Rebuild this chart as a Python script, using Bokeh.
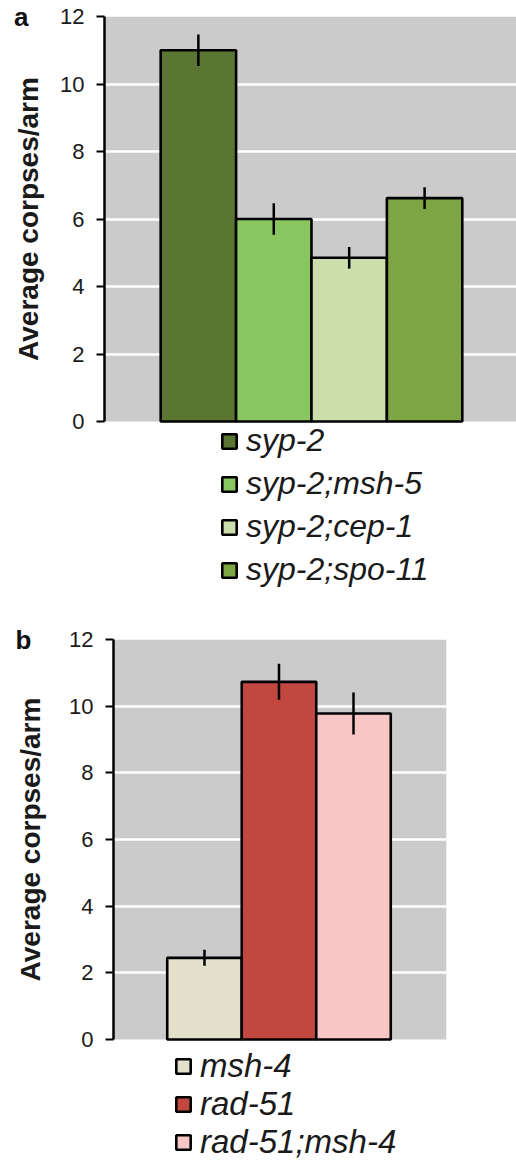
from bokeh.plotting import figure
from bokeh.models import (Range1d, FixedTicker, ColumnDataSource, Legend,
                          LegendItem, BoxAnnotation, LinearAxis)
from bokeh.embed import file_html
from bokeh.resources import INLINE

# ---- data ----
a_labels = ["syp-2", "syp-2;msh-5", "syp-2;cep-1", "syp-2;spo-11"]
a_values = [11.0, 6.0, 4.85, 6.62]
a_errors = [0.47, 0.47, 0.32, 0.32]
a_colors = ["#5b7533", "#8ac660", "#cadfac", "#7ea543"]

b_labels = ["msh-4", "rad-51", "rad-51;msh-4"]
b_values = [2.45, 10.73, 9.78]
b_errors = [0.24, 0.54, 0.63]
b_colors = ["#e3e0cc", "#c1473f", "#f9c6c6"]

y_ticks = [0, 2, 4, 6, 8, 10, 12]
grid_ticks = [2, 4, 6, 8, 10]
y_title = "Average corpses/arm"

FONT = "Liberation Sans"
W = 516
YMAX = 12
YMID = 6


def make_panel(labels, values, errors, colors, letter, height, bl, br, bt,
               plot_px, xr, title_standoff, letter_standoff,
               leg_loc, leg_font, leg_h, leg_spacing):
    xs = list(range(1, len(values) + 1))
    src = ColumnDataSource(dict(x=xs, top=values, color=colors,
                                lo=[v - e for v, e in zip(values, errors)],
                                hi=[v + e for v, e in zip(values, errors)]))
    frame_h = height - bt
    px_per_unit = plot_px / YMAX
    y_start = -(frame_h - plot_px) / px_per_unit
    p = figure(width=W, height=height, output_backend="svg", toolbar_location=None,
               x_range=Range1d(*xr), y_range=Range1d(y_start, YMAX), x_axis_location=None,
               min_border_left=bl, min_border_right=br, min_border_top=bt, min_border_bottom=0)
    p.title.visible = False
    p.background_fill_color = "white"
    p.border_fill_color = "white"
    p.outline_line_color = None

    p.add_layout(BoxAnnotation(bottom=0, top=YMAX, fill_color="#cbcbcb", fill_alpha=1,
                               line_color=None, level="image"))

    r = p.vbar(x="x", top="top", bottom=0, width=1.0, source=src, fill_color="color",
               line_color="black", line_width=2.6)
    p.segment(x0="x", x1="x", y0="lo", y1="hi", source=src, line_color="black", line_width=2.5)

    p.xgrid.visible = False
    p.ygrid.ticker = FixedTicker(ticks=grid_ticks)
    p.ygrid.grid_line_color = "white"
    p.ygrid.grid_line_width = 2.5
    p.ygrid.level = "underlay"

    ax = p.yaxis[0]
    ax.ticker = FixedTicker(ticks=y_ticks)
    ax.bounds = (0, YMAX)
    ax.axis_line_color = "black"
    ax.axis_line_width = 2.5
    ax.major_tick_line_color = "black"
    ax.major_tick_line_width = 2
    ax.major_tick_out = 8
    ax.major_tick_in = 0
    ax.minor_tick_line_color = None
    ax.major_label_text_font = FONT
    ax.major_label_text_font_size = "22px"
    ax.major_label_text_color = "#1a1a1a"
    ax.major_label_standoff = 12
    ax.axis_label = None

    # y-axis title, centred on the 0..12 span (drawn as a rotated tick label)
    tax = LinearAxis(ticker=FixedTicker(ticks=[YMID]), major_label_overrides={YMID: y_title},
                     major_label_orientation="vertical", axis_line_color=None,
                     major_tick_line_color=None, minor_tick_line_color=None,
                     major_tick_out=0, major_tick_in=0,
                     major_label_standoff=title_standoff,
                     major_label_text_font=FONT, major_label_text_font_style="bold",
                     major_label_text_font_size="28px", major_label_text_color="#1a1a1a")
    p.add_layout(tax, "left")

    # panel letter
    lax = LinearAxis(ticker=FixedTicker(ticks=[YMAX]), major_label_overrides={YMAX: letter},
                     axis_line_color=None, major_tick_line_color=None,
                     minor_tick_line_color=None, major_tick_out=0, major_tick_in=0,
                     major_label_standoff=letter_standoff,
                     major_label_text_font=FONT, major_label_text_font_style="bold",
                     major_label_text_font_size="26px", major_label_text_color="#111111")
    p.add_layout(lax, "left")

    items = [LegendItem(label=lab, renderers=[r], index=i) for i, lab in enumerate(labels)]
    leg = Legend(items=items, location=leg_loc, orientation="vertical")
    leg.label_text_font = FONT
    leg.label_text_font_style = "italic"
    leg.label_text_font_size = leg_font
    leg.label_text_color = "#1a1a1a"
    leg.label_height = leg_h
    leg.glyph_width = 18
    leg.glyph_height = 18
    leg.label_standoff = 8
    leg.spacing = leg_spacing
    leg.padding = 0
    leg.margin = 0
    leg.border_line_color = None
    leg.background_fill_alpha = 0
    p.add_layout(leg)
    return p


pa = make_panel(a_labels, a_values, a_errors, a_colors, "a", 600, 104, 0, 16, 405,
                (-0.245, 5.219), 14, -19, (116, 12), "32px", 36, 6)
pb = make_panel(b_labels, b_values, b_errors, b_colors, "b", 561, 113, 70, 39, 400,
                (-0.221, 4.248), 21, -20, (61, 0), "33px", 37, 0)

open("out.html", "w").write(file_html([pa, pb], INLINE))
